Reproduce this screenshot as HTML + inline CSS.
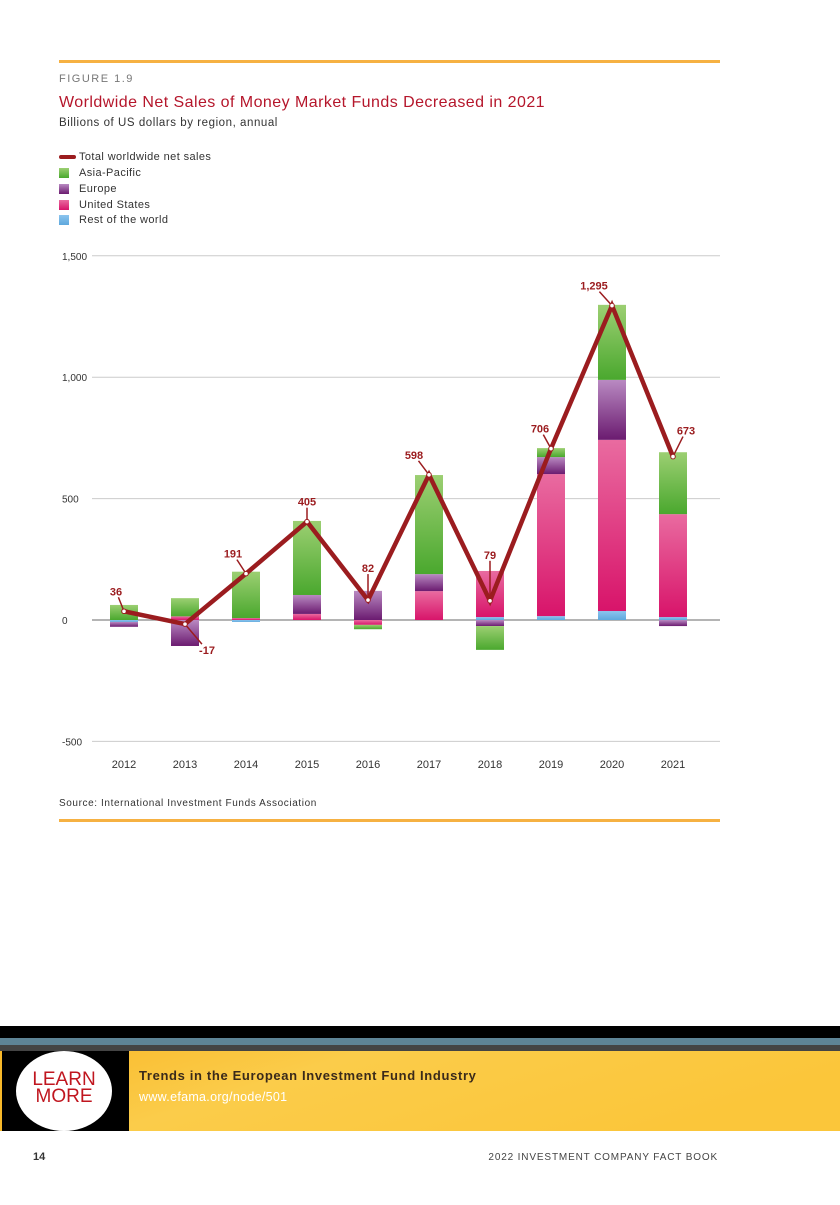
<!DOCTYPE html>
<html><head><meta charset="utf-8"><style>
body{margin:0;width:840px;height:1200px;background:#fff;font-family:"Liberation Sans",sans-serif;overflow:hidden}
</style></head><body>
<svg width="840" height="1200" viewBox="0 0 840 1200" xmlns="http://www.w3.org/2000/svg">
<defs>
<linearGradient id="gG" x1="0" y1="0" x2="0" y2="1"><stop offset="0" stop-color="#9ccf72"/><stop offset="1" stop-color="#4aa82e"/></linearGradient>
<linearGradient id="gP" x1="0" y1="0" x2="0" y2="1"><stop offset="0" stop-color="#b98ac2"/><stop offset="1" stop-color="#6b1b70"/></linearGradient>
<linearGradient id="gK" x1="0" y1="0" x2="0" y2="1"><stop offset="0" stop-color="#e96ba0"/><stop offset="1" stop-color="#d8146a"/></linearGradient>
<linearGradient id="gB" x1="0" y1="0" x2="0" y2="1"><stop offset="0" stop-color="#8cc4ee"/><stop offset="1" stop-color="#5ea8dd"/></linearGradient>
<linearGradient id="gY" x1="0" y1="0" x2="1" y2="0.3"><stop offset="0" stop-color="#f9b92a"/><stop offset="0.4" stop-color="#fbcc4a"/><stop offset="1" stop-color="#fbc63a"/></linearGradient>
</defs>
<rect x="59" y="60" width="661" height="3" fill="#f6b142"/>
<text x="59" y="82" font-size="11" fill="#777" letter-spacing="1.5">FIGURE 1.9</text>
<text x="59" y="107" font-size="16" fill="#b5162b" letter-spacing="0.45">Worldwide Net Sales of Money Market Funds Decreased in 2021</text>
<text x="59" y="126" font-size="11.5" fill="#333" letter-spacing="0.55">Billions of US dollars by region, annual</text>
<g font-size="11" fill="#333" letter-spacing="0.4">
<g><rect x="59" y="155" width="17" height="4" rx="2" fill="#9b1c1f"/><text x="79" y="160">Total worldwide net sales</text></g>
<g><rect x="59" y="168" width="10" height="10" fill="url(#gG)"/><text x="79" y="176">Asia-Pacific</text></g>
<g><rect x="59" y="184" width="10" height="10" fill="url(#gP)"/><text x="79" y="192">Europe</text></g>
<g><rect x="59" y="200" width="10" height="10" fill="url(#gK)"/><text x="79" y="208">United States</text></g>
<g><rect x="59" y="215" width="10" height="10" fill="url(#gB)"/><text x="79" y="223">Rest of the world</text></g>
</g>
<g id="chart"></g>
<text x="59" y="806" font-size="10" fill="#333" letter-spacing="0.6">Source: International Investment Funds Association</text>
<rect x="59" y="819" width="661" height="3" fill="#f6b142"/>
<g>
<rect x="0" y="1026" width="840" height="13" fill="#000"/>
<rect x="0" y="1038" width="840" height="7" fill="#5e8496"/>
<rect x="0" y="1045" width="840" height="6" fill="#444"/>
<rect x="0" y="1051" width="840" height="80" fill="url(#gY)"/>
<rect x="0" y="1051" width="129" height="80" fill="#000"/>
<rect x="0" y="1051" width="2" height="80" fill="#f9b92a"/>
<ellipse cx="64" cy="1091" rx="48" ry="40" fill="#fff"/>
<text x="64" y="1085" font-size="19" fill="#c0161f" text-anchor="middle">LEARN</text>
<text x="64" y="1102" font-size="19" fill="#c0161f" text-anchor="middle">MORE</text>
<text x="139" y="1080" font-size="13" font-weight="bold" fill="#3a2a1a" letter-spacing="0.65">Trends in the European Investment Fund Industry</text>
<text x="139" y="1101" font-size="12.5" fill="#fff" letter-spacing="0.3">www.efama.org/node/501</text>
</g>
<text x="33" y="1160" font-size="11" font-weight="bold" fill="#333">14</text>
<text x="718" y="1160" font-size="10" fill="#444" text-anchor="end" letter-spacing="0.85">2022 INVESTMENT COMPANY FACT BOOK</text>
</svg>
<script>
const years=["2012","2013","2014","2015","2016","2017","2018","2019","2020","2021"];
const restOfWorld=[-8,0,-8,0,0,0,12,16,37,12];
const unitedStates=[0,15,8,25,-20,119,190,585,705,424];
const europe=[-20,-107,0,78,120,70,-25,70,247,-25];
const asiaPacific=[62,75,191,305,-18,408,-98,37,309,255];
const totals=[36,-17,191,405,82,598,79,706,1295,673];
const totalLabels=["36","-17","191","405","82","598","79","706","1,295","673"];
const yTicks=[-500,0,500,1000,1500];
const yTickLabels=["-500","0","500","1,000","1,500"];
const labelOffsets=[[-8,-20],[22,26],[-13,-20],[0,-20],[0,-32],[-15,-20],[0,-46],[-11,-20],[-18,-20],[13,-26]];
const NS="http://www.w3.org/2000/svg";
const g=document.getElementById('chart');
const y=v=>620-v*0.2428;
const x=i=>124+i*61;
function mk(t,a,p){const e=document.createElementNS(NS,t);for(const k in a)e.setAttribute(k,a[k]);(p||g).appendChild(e);return e;}
yTicks.forEach((t,i)=>{
 const l=mk('line',{x1:92,x2:720,y1:y(t),y2:y(t),stroke:t===0?'#888':'#ccc','stroke-width':t===0?1.2:1});
 
 
 const tx=mk('text',{x:62,y:y(t)+4,'font-size':10,fill:'#333'});tx.textContent=yTickLabels[i];
 
 
});
years.forEach((yr,i)=>{
 const tx=mk('text',{x:x(i),y:768,'font-size':11,fill:'#333','text-anchor':'middle'});tx.textContent=yr;
 
 
});
const series=[[restOfWorld,'gB'],[unitedStates,'gK'],[europe,'gP'],[asiaPacific,'gG']];
years.forEach((yr,i)=>{
 let pos=0,neg=0;
 series.forEach(([arr,f])=>{
  const v=arr[i];if(!v)return;
  let a,b;if(v>0){a=pos;b=pos+v;pos=b;}else{a=neg;b=neg+v;neg=b;}
  const r=mk('rect',{x:x(i)-14,width:28,y:Math.min(y(a),y(b)),height:Math.abs(y(a)-y(b)),fill:'url(#'+f+')'});
  
  
 });
});
const pts=totals.map((v,i)=>x(i)+','+y(v)).join(' ');
const pl=mk('polyline',{points:pts,fill:'none',stroke:'#9b1c1f','stroke-width':4.5,'stroke-linejoin':'miter'});


totals.forEach((v,i)=>{
 const [dx,dy]=labelOffsets[i];
 const lx=x(i)+dx,ly=y(v)+dy;
 const f=(Math.abs(dy)-6)/Math.abs(dy);
 const ld=mk('line',{x1:x(i),y1:y(v),x2:x(i)+dx*f,y2:y(v)+dy*f,stroke:'#9b1c1f','stroke-width':1.5});
 
 
 const c=mk('circle',{cx:x(i),cy:y(v),r:2.3,fill:'#fff',stroke:'#9b1c1f','stroke-width':1});
 
 
 const t=mk('text',{x:lx,y:ly+4,'font-size':11,'font-weight':'bold',fill:'#9b1c1f','text-anchor':'middle'});
 t.textContent=totalLabels[i];
 
 
});
</script>
</body></html>
